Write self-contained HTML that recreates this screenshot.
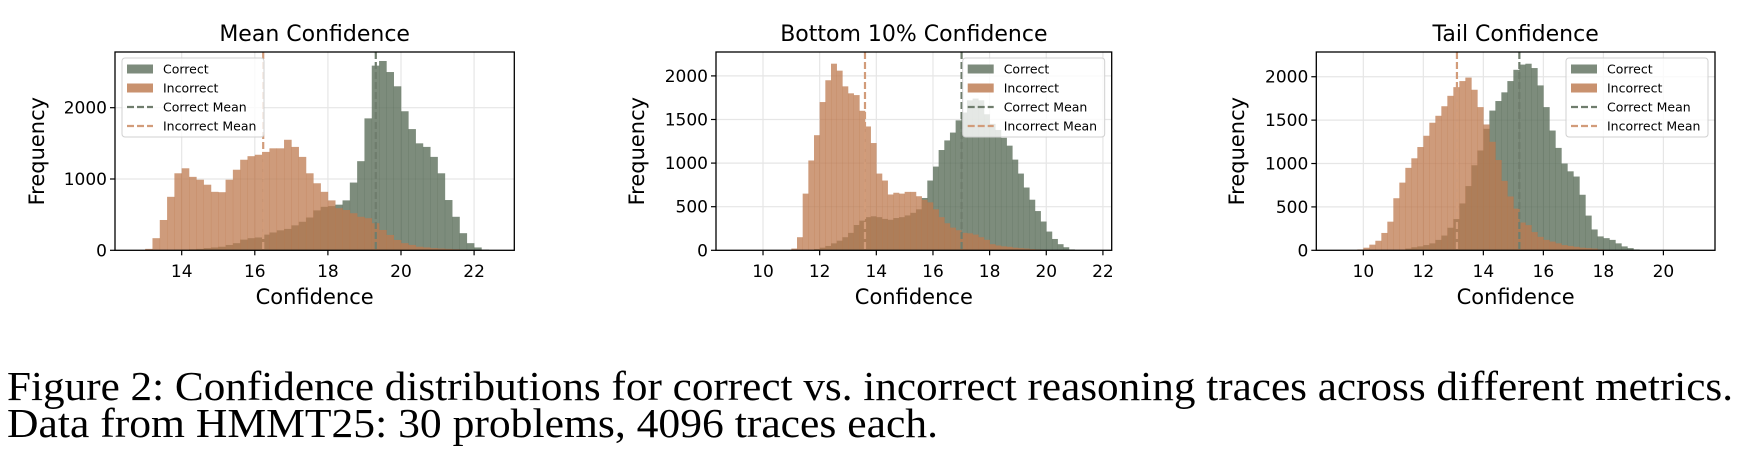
<!DOCTYPE html>
<html><head><meta charset="utf-8"><style>
html,body{margin:0;padding:0;background:#fff;}
svg{display:block;}
text{font-family:"DejaVu Sans","Liberation Sans",sans-serif;fill:#000;}
.cap{font-family:"Liberation Serif","Times New Roman",serif;}
</style></head><body>
<svg id="fig" width="1750" height="468" viewBox="0 0 1750 468" xmlns="http://www.w3.org/2000/svg">
<text class="cap" x="7" y="400" font-size="41" textLength="1726" lengthAdjust="spacingAndGlyphs">Figure 2: Confidence distributions for correct vs. incorrect reasoning traces across different metrics.</text>
<text class="cap" x="7" y="437" font-size="41" textLength="931" lengthAdjust="spacingAndGlyphs">Data from HMMT25: 30 problems, 4096 traces each.</text>
</svg>
<script>
// Panel 1: Mean Confidence
const p1Start = [13.8, 13.0];
const p1Correct = [5,10,15,20,30,40,50,75,100,150,170,180,220,250,280,300,350,400,460,560,610,620,640,700,950,1250,1850,2590,2655,2500,2300,1950,1700,1500,1450,1310,1080,705,470,240,100,40,10];
const p1Incorrect = [20,170,425,750,1080,1150,1030,990,920,820,815,990,1130,1270,1320,1340,1380,1430,1430,1550,1450,1310,1080,940,820,700,590,565,520,470,450,380,285,215,145,100,75,50,40,30,25,20,15,10,5,3];
const p1Means = [19.31, 16.23];
const p1XTicks = [14,16,18,20,22];
const p1YTicks = [0,1000,2000];
// Panel 2: Bottom 10% Confidence
const p2Start = [11.8, 11.0];
const p2Correct = [15,30,50,80,110,150,200,290,340,380,390,380,360,350,370,380,400,430,470,600,800,960,1150,1260,1350,1490,1580,1720,1740,1720,1560,1450,1380,1290,1200,1040,880,720,580,450,330,215,130,70,35,10];
const p2Incorrect = [20,150,650,1030,1320,1700,1950,2140,2060,1880,1800,1780,1600,1420,1230,880,800,640,660,650,670,670,620,580,550,470,380,310,260,230,200,195,180,150,120,70,55,45,40,30,25,20,15,10,5,3];
const p2Means = [17.01, 13.6];
const p2XTicks = [10,12,14,16,18,20,22];
const p2YTicks = [0,500,1000,1500,2000];
// Panel 3: Tail Confidence
const p3Start = [11.4, 9.8];
const p3Correct = [20,35,45,60,80,120,170,260,360,540,740,980,1150,1400,1610,1720,1820,1950,2080,2140,2150,2100,1900,1650,1380,1180,1000,910,850,640,400,240,160,140,120,80,45,25,10];
const p3Incorrect = [10,30,65,110,200,330,600,780,950,1060,1190,1320,1470,1550,1660,1780,1880,1950,1990,1850,1650,1450,1250,1040,800,620,480,320,290,210,155,120,100,80,60,50,40,30,25,20,10,5];
const p3Means = [15.2, 13.12];
const p3XTicks = [10,12,14,16,18,20];
const p3YTicks = [0,500,1000,1500,2000];

const BIN = 0.2;
const NS = 'http://www.w3.org/2000/svg';
const svg = document.getElementById('fig');
function mk(tag, attrs, parent){const e=document.createElementNS(NS,tag);for(const k in attrs)e.setAttribute(k,attrs[k]);(parent||svg).appendChild(e);return e;}

function panel(cfg){
  const {key,title,L,R,T,B,xmin,xmax,ymax,start,correct,incorrect,means,xticks,yticks,legendX,ylabelX}=cfg;
  const g=mk('g',{});
  
  
  const sx=v=>L+(v-xmin)/(xmax-xmin)*(R-L);
  const sy=v=>B-v/ymax*(B-T);
  xticks.forEach(t=>{const l=mk('line',{x1:sx(t),x2:sx(t),y1:T,y2:B,stroke:'#e6e6e6','stroke-width':1.2},g);
    
    });
  yticks.forEach(t=>{const l=mk('line',{x1:L,x2:R,y1:sy(t),y2:sy(t),stroke:'#e6e6e6','stroke-width':1.2},g);
    
    });
  correct.forEach((v,i)=>{const x0=start[0]+i*BIN;const r=mk('rect',{x:sx(x0),y:sy(v),width:sx(x0+BIN)-sx(x0)+0.3,height:B-sy(v),fill:'#596b57','fill-opacity':0.78},g);
    
    });
  incorrect.forEach((v,i)=>{const x0=start[1]+i*BIN;const r=mk('rect',{x:sx(x0),y:sy(v),width:sx(x0+BIN)-sx(x0)+0.3,height:B-sy(v),fill:'#bd7a4f','fill-opacity':0.75},g);
    
    });
  const m1=mk('line',{x1:sx(means[0]),x2:sx(means[0]),y1:T,y2:B,stroke:'#6f7d6d','stroke-width':2.2,'stroke-dasharray':'7,3'},g);
  
  
  const m2=mk('line',{x1:sx(means[1]),x2:sx(means[1]),y1:T,y2:B,stroke:'#d29c7a','stroke-width':2.2,'stroke-dasharray':'7,3'},g);
  
  
  const fr=mk('rect',{x:L,y:T,width:R-L,height:B-T,fill:'none',stroke:'#000','stroke-width':1.3},g);
  
  
  xticks.forEach(t=>{mk('line',{x1:sx(t),x2:sx(t),y1:B,y2:B+5,stroke:'#000','stroke-width':1.2},g);
    const tx=mk('text',{x:sx(t),y:277,'font-size':17,'text-anchor':'middle'},g);tx.textContent=t;
    
    });
  yticks.forEach(t=>{mk('line',{x1:L-5,x2:L,y1:sy(t),y2:sy(t),stroke:'#000','stroke-width':1.2},g);
    const tx=mk('text',{x:L-8,y:sy(t)+6,'font-size':17,'text-anchor':'end'},g);tx.textContent=t;
    
    });
  const ti=mk('text',{x:(L+R)/2,y:41,'font-size':22,'text-anchor':'middle'},g);ti.textContent=title;
  
  
  const xl=mk('text',{x:(L+R)/2,y:304,'font-size':21,'text-anchor':'middle'},g);xl.textContent='Confidence';
  
  
  const yc=(T+B)/2;
  const yl=mk('text',{x:ylabelX,y:yc,'font-size':21,'text-anchor':'middle',transform:`rotate(-90 ${ylabelX} ${yc})`},g);yl.textContent='Frequency';
  
  
  const lg=mk('g',{},g);
  
  
  mk('rect',{x:legendX,y:58,width:142,height:79,rx:3,fill:'#fff','fill-opacity':0.8,stroke:'#d0d0d0','stroke-width':1},lg);
  const items=[['Correct','patch','#7d8b7c'],['Incorrect','patch','#c9926f'],['Correct Mean','line','#6f7d6d'],['Incorrect Mean','line','#d29c7a']];
  items.forEach((it,i)=>{const cy=69+i*19;
    const e=mk('g',{},lg);
    
    
    if(it[1]==='patch')mk('rect',{x:legendX+5,y:cy-4.5,width:26,height:9,fill:it[2]},e);
    else mk('line',{x1:legendX+5,x2:legendX+31,y1:cy,y2:cy,stroke:it[2],'stroke-width':2.2,'stroke-dasharray':'7,3'},e);
    const t=mk('text',{x:legendX+41,y:cy+4.5,'font-size':12.5},e);t.textContent=it[0];});
}
panel({key:'mean-confidence',title:'Mean Confidence',L:115,R:514.3,T:52,B:250.3,xmin:12.175,xmax:23.1,ymax:2781,start:p1Start,correct:p1Correct,incorrect:p1Incorrect,means:p1Means,xticks:p1XTicks,yticks:p1YTicks,legendX:122,ylabelX:44});
panel({key:'bottom-10-confidence',title:'Bottom 10% Confidence',L:716,R:1111.7,T:52,B:250.3,xmin:8.34,xmax:22.31,ymax:2274,start:p2Start,correct:p2Correct,incorrect:p2Incorrect,means:p2Means,xticks:p2XTicks,yticks:p2YTicks,legendX:962.7,ylabelX:644});
panel({key:'tail-confidence',title:'Tail Confidence',L:1316.3,R:1715,T:52,B:250.3,xmin:8.433,xmax:21.72,ymax:2285,start:p3Start,correct:p3Correct,incorrect:p3Incorrect,means:p3Means,xticks:p3XTicks,yticks:p3YTicks,legendX:1566,ylabelX:1244});
</script>
</body></html>
